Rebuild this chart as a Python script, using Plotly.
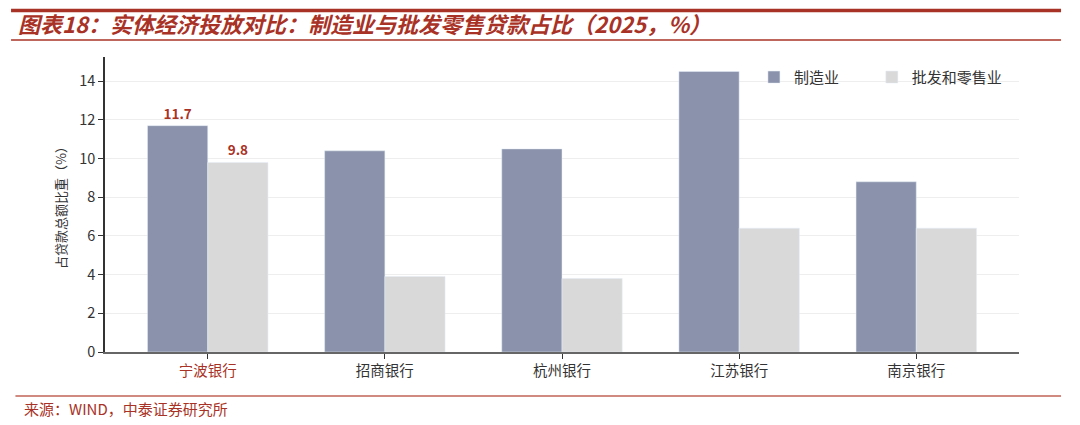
import plotly.graph_objects as go

banks = ["宁波银行", "招商银行", "杭州银行", "江苏银行", "南京银行"]
manufacturing = [11.7, 10.4, 10.5, 14.5, 8.8]
wholesale_retail = [9.8, 3.9, 3.8, 6.4, 6.4]
labeled_bank = "宁波银行"

red = "#a93226"
font_cn = "Noto Sans CJK SC"

def labels(values):
    return [f"{v:.1f}" if b == labeled_bank else "" for b, v in zip(banks, values)]

tick_text = [f'<span style="color:{red}">{b}</span>' if b == labeled_bank else b for b in banks]

fig = go.Figure()
fig.add_trace(go.Bar(x=banks, y=manufacturing, name="制造业", marker_color="#8a93ab",
                     text=labels(manufacturing), textposition="outside",
                     textfont=dict(color=red, size=13.5, family=font_cn, weight="bold"),
                     cliponaxis=False, legend="legend"))
fig.add_trace(go.Bar(x=banks, y=wholesale_retail, name="批发和零售业", marker_color="#d9d9d9",
                     text=labels(wholesale_retail), textposition="outside",
                     textfont=dict(color=red, size=13.5, family=font_cn, weight="bold"),
                     cliponaxis=False, legend="legend2"))

legend_style = dict(orientation="h", y=0.931, xanchor="left", yanchor="middle",
                    font=dict(size=15, color="#333333"), bgcolor="rgba(0,0,0,0)")

# page body has an 8px margin, so positions are offset by -8
fig.update_layout(
    width=1080, height=425,
    margin=dict(l=97, r=69, t=49, b=81, autoexpand=False),
    paper_bgcolor="white", plot_bgcolor="white",
    font=dict(family=font_cn, color="#333333"),
    barmode="group", bargap=0.32, bargroupgap=0,
    showlegend=True,
    legend=dict(x=0.71, **legend_style),
    legend2=dict(x=0.839, **legend_style),
    title=dict(text="图表18：实体经济投放对比：制造业与批发零售贷款占比（2025，%）",
               x=10 / 1080, xanchor="left", xref="container",
               y=1 - 17 / 425, yanchor="middle", yref="container",
               font=dict(size=22, color=red, family=font_cn, weight="bold", style="italic")),
)

fig.update_xaxes(tickvals=banks, ticktext=tick_text, range=[-0.58, 4.58],
                 showline=True, linecolor="#666666", linewidth=2,
                 ticks="outside", ticklen=5, tickcolor="#333333",
                 tickfont=dict(size=14.5, color="#333333"), showgrid=False)
fig.update_yaxes(range=[0, 15.25], dtick=2, showline=True, linecolor="#333333", linewidth=1.5,
                 ticks="outside", ticklen=5, tickcolor="#333333",
                 tickfont=dict(size=14.5, color="#333333"),
                 showgrid=True, gridcolor="#eeeeee", gridwidth=1, zeroline=False,
                 title=dict(text="占贷款总额比重（%）", font=dict(size=13, color="#333333"), standoff=10))

# header / footer rules
fig.add_shape(type="line", xref="paper", yref="paper", x0=-0.1028, x1=1.046, y0=1.1576, y1=1.1576,
              line=dict(color=red, width=3.5))
fig.add_shape(type="line", xref="paper", yref="paper", x0=-0.1028, x1=1.046, y0=1.0576, y1=1.0576,
              line=dict(color=red, width=1.5))
fig.add_shape(type="line", xref="paper", yref="paper", x0=-0.098, x1=1.046, y0=-0.149, y1=-0.149,
              line=dict(color="#d08a80", width=2))

fig.add_annotation(text="来源：WIND，中泰证券研究所", xref="paper", yref="paper",
                   x=-0.0908, y=-0.19, xanchor="left", yanchor="middle", showarrow=False,
                   font=dict(size=15, color=red, family=font_cn))

fig.write_html("out.html")
